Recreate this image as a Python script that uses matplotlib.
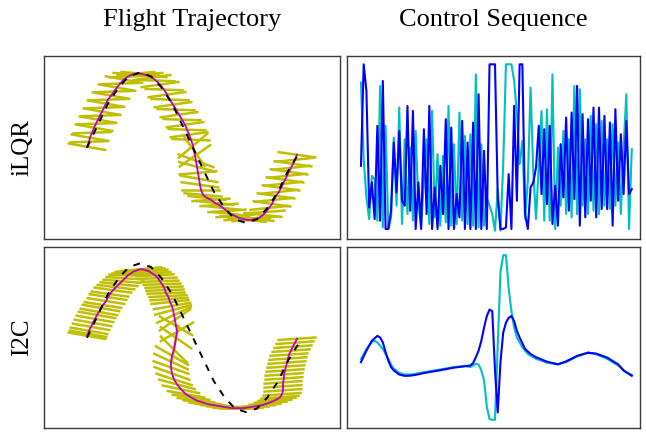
import numpy as np
import matplotlib.pyplot as plt

plt.rcParams['font.family'] = ['Liberation Serif', 'DejaVu Serif']

# reference sine trajectory (same for both planners)
ref_x = [0.0, 1.1, 2.1, 3.2, 4.2, 5.3, 6.4, 7.4, 8.5, 9.5, 10.6,
         11.7, 12.7, 13.8, 14.8, 15.9, 17.0, 18.0, 19.1, 20.1, 21.1]
ref_y = [0.0, 2.32, 4.41, 6.07, 7.13, 7.5, 7.13, 6.07, 4.41, 2.32, 0.0,
         -2.32, -4.41, -6.07, -7.13, -7.5, -7.13, -6.07, -4.41, -2.32, -0.7]

# iLQR quadrotor states: position and tilt (deg)
ilqr_x = [0.0, 0.2, 0.3, 0.5, 0.7, 0.9, 1.1, 1.3, 1.5, 1.7, 1.9, 2.1, 2.4, 2.7, 3.0, 3.3, 3.7, 4.1,
          4.5, 4.9, 5.3, 5.7, 6.1,
          6.5, 6.9, 7.3, 7.7, 8.0, 8.3, 8.6, 8.9, 9.2, 9.5, 9.8, 10.0, 10.2, 10.4,
          10.6, 10.7, 10.8, 10.9, 11.0, 11.1, 11.2, 11.3, 11.4, 11.6,
          12.0, 12.4, 12.8, 13.2, 13.6, 14.0, 14.4, 14.8, 15.2, 15.6, 16.0, 16.4, 16.8, 17.2, 17.6, 17.9,
          18.2, 18.5, 18.7, 18.9, 19.2, 19.4, 19.6, 19.8, 20.0, 20.2, 20.4, 20.6, 20.8, 21.0]
ilqr_y = [0.1, 0.6, 1.0, 1.5, 2.0, 2.4, 2.8, 3.2, 3.6, 4.0, 4.4, 4.8, 5.2, 5.6, 6.0, 6.4, 6.8, 7.1,
          7.3, 7.4, 7.4, 7.3, 7.2,
          7.0, 6.7, 6.3, 5.8, 5.3, 4.8, 4.3, 3.8, 3.3, 2.8, 2.3, 1.8, 1.3, 0.8,
          0.2, -0.3, -0.8, -1.3, -1.9, -2.5, -3.1, -3.7, -4.2, -4.7,
          -5.0, -5.2, -5.5, -5.7, -6.0, -6.3, -6.6, -6.8, -7.0, -7.1, -7.2, -7.2, -7.1, -7.0, -6.7, -6.4,
          -6.0, -5.6, -5.2, -4.8, -4.4, -4.0, -3.6, -3.2, -2.8, -2.4, -2.0, -1.6, -1.2, -0.7]
ilqr_tilt = [-10, 2, -10, 2, -10, 2, -10, 2, -10, 2, -10, 2, -10, 2, -10, 2, -10, 2,
             -5, 5, -5, 5, -5,
             8, -2, 8, -2, 8, -2, 8, -2, 8, -2, 8, -2, 8, -2,
             40, -55, 35, -20, -15, 5, -10, -8, 0, -5,
             -6, 4, -6, 4, -6, 4, -6, 4, -6, 4, -6, 4, -6, 4, -6, 4,
             6, -8, 6, -8, 6, -8, 6, -8, 6, -8, 6, -8, 6, -8]

# I2C quadrotor states
i2c_x = [0.0, 0.1, 0.2, 0.4, 0.6, 0.8, 1.0, 1.2, 1.4, 1.6, 1.9, 2.1, 2.3, 2.6, 2.9, 3.2, 3.5, 3.8, 4.1, 4.4,
         4.7, 5.0, 5.3, 5.6, 5.9, 6.2, 6.5, 6.8,
         7.1, 7.3, 7.5, 7.7, 7.8, 7.9, 8.1, 8.2, 8.3, 8.5, 8.6,
         8.7, 8.8, 8.9, 9.0, 8.9, 8.8, 8.7, 8.5, 8.4, 8.4, 8.5, 8.7, 9.0, 9.4, 9.9,
         10.4, 10.9, 11.5, 12.1, 12.7, 13.3, 13.9, 14.5, 15.1, 15.7, 16.3, 16.9, 17.5, 18.1, 18.6, 19.0, 19.3,
         19.5, 19.6, 19.6, 19.6, 19.7, 19.7, 19.8, 19.9, 20.0, 20.1, 20.2, 20.4, 20.6, 20.8, 21.0]
i2c_y = [0.2, 0.4, 0.7, 1.1, 1.5, 1.9, 2.3, 2.6, 3.0, 3.3, 3.7, 4.1, 4.4, 4.8, 5.1, 5.4, 5.7, 6.0, 6.3, 6.5,
         6.7, 6.8, 6.9, 6.9, 6.8, 6.7, 6.5, 6.3,
         6.0, 5.7, 5.4, 5.1, 4.8, 4.5, 4.2, 3.9, 3.6, 3.2, 2.8,
         2.3, 1.8, 1.2, 0.6, 0.0, -0.6, -1.2, -1.8, -2.4, -3.0, -3.6, -4.2, -4.7, -5.2, -5.7,
         -6.0, -6.3, -6.5, -6.7, -6.8, -6.9, -7.0, -7.1, -7.1, -7.1, -7.0, -6.9, -6.8, -6.6, -6.4, -6.2, -6.0,
         -5.7, -5.3, -4.9, -4.5, -4.1, -3.7, -3.3, -2.9, -2.5, -2.1, -1.7, -1.3, -0.9, -0.5, -0.1]
i2c_tilt = [-10, -10, -10, -10, -10, -10, -10, -10, -10, -9, -9, -9, -8, -8, -7, -6, -5, -4, -2, 0,
            2, 4, 5, 6, 6, 5, 4, 3,
            2, 2, 2, 2, 2, 2, 3, 4, 6, 10, 15,
            25, 35, -30, 30, -35, 80, -45, -30, -25, -20, -20, -18, -15, -12, -10,
            -8, -7, -6, -5, -4, -3, -2, -1, 0, 1, 2, 3, 4, 5, 5, 5, 4,
            4, 4, 4, 4, 4, 4, 4, 4, 4, 4, 4, 4, 4, 4, 4]

# control sequences (two inputs), iLQR
ilqr_u1 = [8.9, 4.3, 2.0, 0.7, 3.3, 3.1, 0.6, 8.7, 0.2, 6.3,
           0.1, 0.8, 5.6, 1.5, 7.4, 0.4, 5.5, 1.0, 5.0, 0.6,
           6.0, 1.5, 0.3, 3.0, 5.5, 0.4, 7.2, 0.8, 4.6, 0.3,
           4.5, 0.5, 7.5, 0.3, 5.2, 0.4, 7.1, 0.6, 5.7, 0.4,
           5.8, 0.3, 9.4, 0.2, 5.2, 0.3, 2.0, 1.5, 1.0, 0.0,
           2.5, 0.0, 4.0, 10.0, 10.0, 10.0, 9.0, 7.0, 4.0, 5.4,
           0.7, 3.0, 8.6, 3.5, 0.7, 4.0, 7.2, 0.6, 7.3, 0.6,
           9.4, 0.1, 5.0, 1.5, 6.0, 1.0, 5.5, 0.8, 8.7, 1.0,
           8.5, 1.5, 5.5, 1.0, 6.9, 1.2, 6.4, 1.0, 6.6, 1.5,
           5.5, 1.3, 6.4, 1.5, 5.3, 1.0, 5.0, 8.2, 0.1, 4.9]
ilqr_u2 = [3.9, 10.0, 8.4, 1.4, 2.9, 0.7, 6.3, 0.6, 9.0, 0.1,
           0.1, 1.2, 5.3, 2.3, 6.0, 1.8, 1.5, 7.5, 1.2, 7.2,
           0.1, 2.9, 0.1, 6.1, 1.0, 7.5, 0.1, 2.6, 0.1, 3.9,
           1.0, 6.7, 0.1, 6.2, 0.1, 2.2, 0.8, 6.6, 0.1, 5.3,
           0.1, 6.5, 0.1, 8.2, 0.1, 4.8, 0.1, 10.0, 10.0, 10.0,
           2.0, 0.1, 0.1, 0.2, 3.4, 0.1, 7.5, 1.8, 10.0, 10.0,
           1.0, 0.1, 2.6, 2.9, 3.8, 6.3, 2.2, 6.1, 1.6, 6.3,
           0.4, 2.7, 0.3, 5.2, 2.0, 6.8, 1.2, 7.1, 1.9, 8.7,
           0.3, 7.0, 0.8, 6.7, 1.8, 7.4, 0.8, 7.4, 1.3, 6.9,
           1.3, 6.5, 0.3, 7.3, 1.8, 5.8, 2.2, 6.6, 2.2, 2.5]

# control sequences, I2C (time step, value)
i2c_t1 = [0, 2, 4, 5, 6, 8, 10, 11, 12, 14, 16, 18, 20, 24, 29, 34, 38, 40, 41, 42, 43, 44, 45, 46, 47,
          48, 49, 50, 51, 52, 53, 54, 55, 56, 57, 59, 61, 64, 68, 72, 75, 79, 83, 86, 90, 94, 97, 99]
i2c_u1 = [3.7, 4.3, 4.75, 4.8, 4.7, 4.3, 3.7, 3.35, 3.1, 2.85, 2.75, 2.75, 2.8, 2.92, 3.06, 3.2, 3.28,
          3.2, 3.3, 3.4, 3.35, 3.0, 2.4, 0.8, 0.05,
          0.0, 0.0, 4.5, 9.0, 10.0, 10.0, 8.0, 6.6, 5.6, 5.0, 4.4, 4.0, 3.7, 3.47, 3.37, 3.5, 3.85,
          4.08, 3.98, 3.7, 3.3, 2.87, 2.73]
i2c_t2 = [0, 2, 4, 6, 7, 8, 9, 10, 11, 12, 14, 16, 18, 20, 24, 29, 34, 38, 40, 41, 42, 43, 44, 45, 46,
          47, 48, 49, 50, 51, 52, 53, 54, 55, 56, 57, 58, 60, 62, 64, 68, 72, 75, 79, 83, 86, 90, 94, 96, 99]
i2c_u2 = [3.5, 4.2, 4.8, 5.1, 5.0, 4.7, 4.1, 3.6, 3.2, 3.0, 2.75, 2.67, 2.68, 2.73, 2.87, 3.01, 3.17,
          3.25, 3.3, 3.45, 3.8, 4.2, 4.8, 5.6, 6.3,
          6.7, 6.6, 3.0, 0.45, 3.5, 5.3, 5.9, 6.2, 6.3, 6.0, 5.4, 5.0, 4.3, 4.0, 3.8, 3.53, 3.37, 3.55,
          3.88, 4.08, 4.02, 3.78, 3.37, 3.0, 2.67]

HALF = 1.85  # half rotor span in plot units

W, H = 646, 432
fig = plt.figure(figsize=(W / 100, H / 100), dpi=100)


def add_ax(l, t, r, b):
    ax = fig.add_axes([l / W, 1 - b / H, (r - l) / W, (b - t) / H])
    ax.set_xticks([])
    ax.set_yticks([])
    for s in ax.spines.values():
        s.set_color('#3a3a3a')
        s.set_linewidth(1.0)
    return ax


def draw_flight(ax, xs, ys, tilts):
    for x, y, a in zip(xs, ys, tilts):
        t = np.radians(a)
        dx, dy = HALF * np.cos(t), HALF * np.sin(t)
        ax.plot([x - dx, x + dx], [y - dy, y + dy], color='y', lw=1.8, zorder=2)
    ax.plot(xs, ys, color='m', lw=1.3, zorder=3)
    ax.plot(ref_x, ref_y, color='k', ls='--', dashes=(3.5, 4), lw=1.4, zorder=4)
    ax.set_xlim(-4.3, 25.3)
    ax.set_ylim(-9.1, 9.15)


def draw_controls(ax, t1, u1, t2, u2):
    ax.plot(t1, u1, color='c', lw=1.5)
    ax.plot(t2, u2, color='b', lw=1.5)
    ax.set_xlim(-5.1, 102)
    ax.set_ylim(-0.5, 10.5)


ax1 = add_ax(44, 56, 340, 239)
ax2 = add_ax(347, 56, 640, 239)
ax3 = add_ax(44, 247, 340, 428)
ax4 = add_ax(347, 247, 640, 428)

steps = np.arange(len(ilqr_u1))
draw_flight(ax1, ilqr_x, ilqr_y, ilqr_tilt)
draw_controls(ax2, steps, ilqr_u1, steps, ilqr_u2)
draw_flight(ax3, i2c_x, i2c_y, i2c_tilt)
draw_controls(ax4, i2c_t1, i2c_u1, i2c_t2, i2c_u2)

ax1.set_title('Flight Trajectory', fontsize=19, pad=21.6)
ax2.set_title('Control Sequence', fontsize=19, pad=21.6)
fig.text(22 / W, 1 - 147.5 / H, 'iLQR', rotation=90, ha='center', va='center', fontsize=18)
fig.text(22 / W, 1 - 337.5 / H, 'I2C', rotation=90, ha='center', va='center', fontsize=18)

fig.savefig('out.png', dpi=100)
